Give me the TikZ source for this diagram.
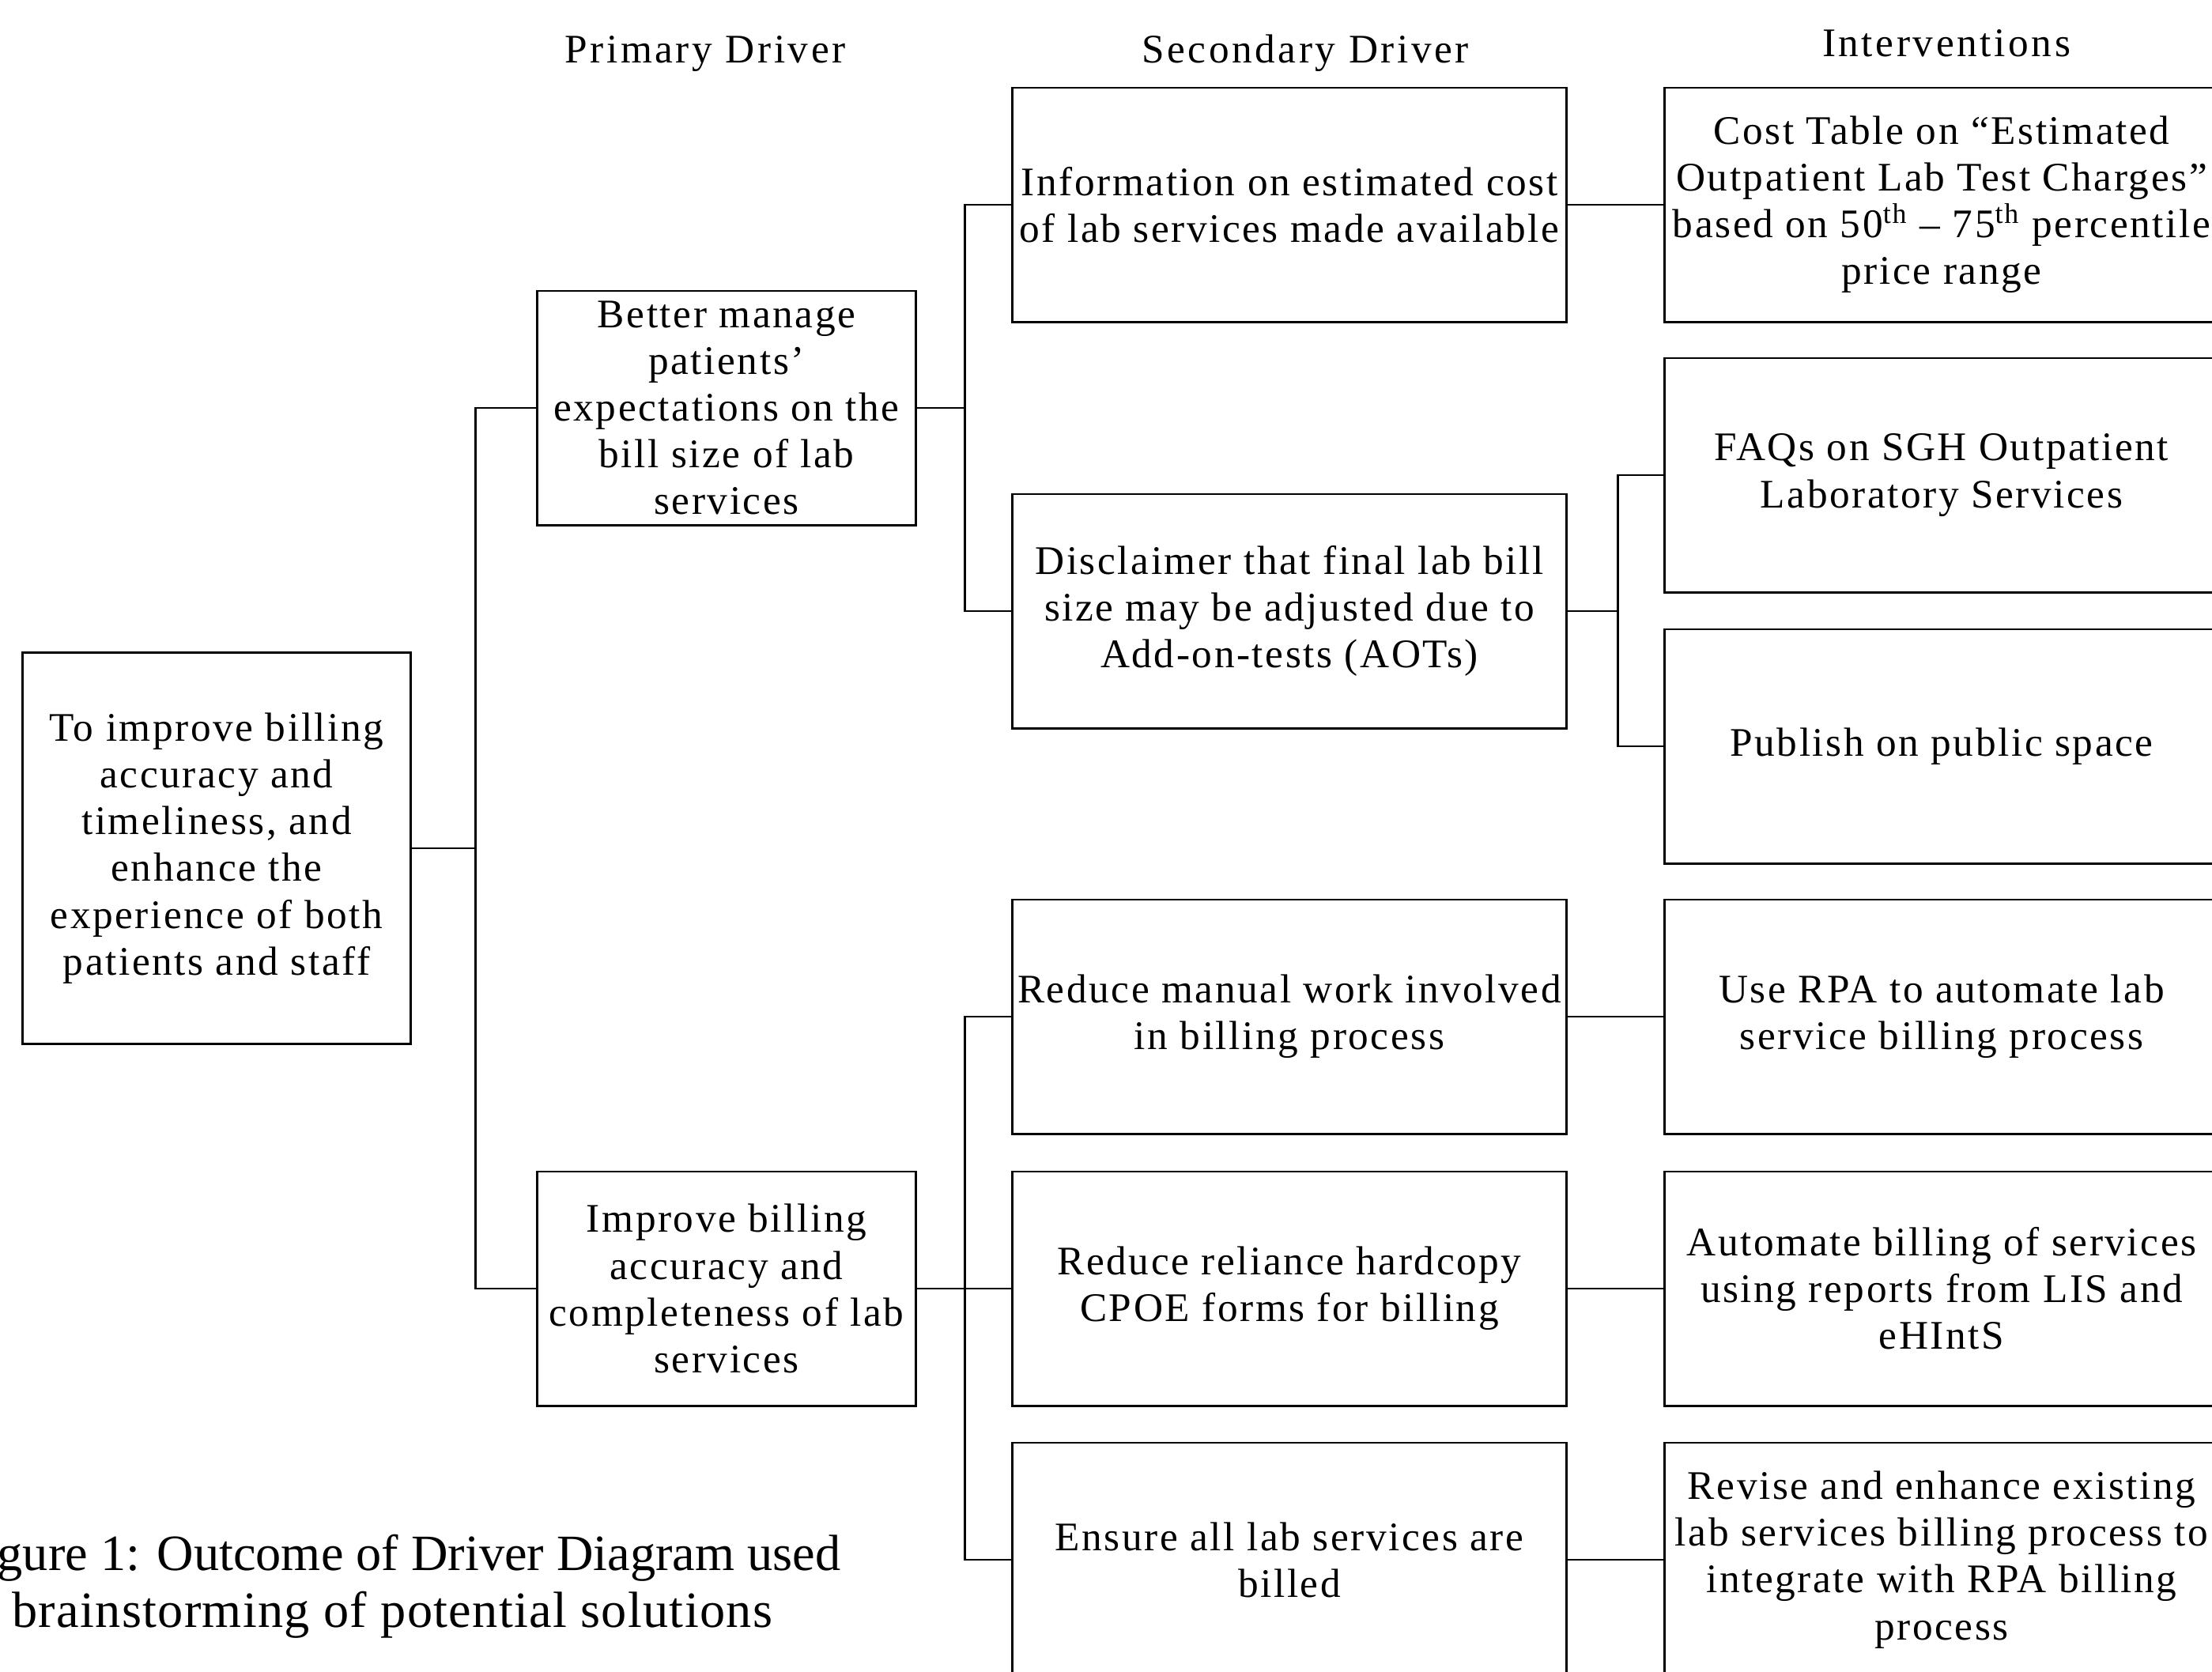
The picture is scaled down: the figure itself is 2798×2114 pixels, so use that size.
\documentclass[tikz,border=0pt]{standalone}
\usepackage{fontspec}
\setmainfont{Liberation Serif}[LetterSpace=5]
\newfontfamily\headfont{Liberation Serif}[LetterSpace=7]
\newfontfamily\capfont{Liberation Serif}
\newfontfamily\capwfont{Liberation Serif}[LetterSpace=2]
\begin{document}
\begin{tikzpicture}[x=0.01cm, y=-0.01cm, line width=0.8pt,
    drvbox/.style={draw, inner sep=0pt, align=center,
      minimum width=7.01cm, minimum height=2.96cm,
      font=\fontsize{14.6}{16.8}\selectfont},
    colhead/.style={anchor=base, font=\headfont\fontsize{14.6}{16.8}\selectfont},
    captxt/.style={inner sep=0pt, font=\capfont\fontsize{18.3}{21}\selectfont}]
    \useasboundingbox (0,0) rectangle (2798,2114);
    \clip (0,0) rectangle (2798,2114);

    % ── Column heads ─────────────────────────────────────────────────
    \node[colhead] (hprim) at (892,79) {Primary Driver};
    \node[colhead] (hsec)  at (1651,79) {Secondary Driver};
    \node[colhead] (hint)  at (2462,71) {Interventions};

    % ── Aim (left) ────────────────────────────────────────────────────
    \node[drvbox, minimum width=4.9cm, minimum height=4.94cm] (goal) at (274,1073)
      {To improve billing\\accuracy and\\timeliness, and\\enhance the\\experience of both\\patients and staff};

    % ── Primary drivers ───────────────────────────────────────────────
    \node[drvbox, minimum width=4.78cm] (prim1) at (919,516)
      {Better manage\\patients’\\expectations on the\\bill size of lab\\services};
    \node[drvbox, minimum width=4.78cm] (prim2) at (919,1630)
      {Improve billing\\accuracy and\\completeness of lab\\services};

    \draw (goal.east) -- ++(81,0) coordinate (jgoal) |- (prim1.west);
    \draw (jgoal) |- (prim2.west);

    % ── Secondary drivers ─────────────────────────────────────────────
    \node[drvbox] (sec1) at (1631,259)
      {Information on estimated cost\\of lab services made available};
    \node[drvbox] (sec2) at (1631,773)
      {Disclaimer that final lab bill\\size may be adjusted due to\\Add-on-tests (AOTs)};
    \node[drvbox] (sec3) at (1631,1286)
      {Reduce manual work involved\\in billing process};
    \node[drvbox] (sec4) at (1631,1630)
      {Reduce reliance hardcopy\\CPOE forms for billing};
    \node[drvbox] (sec5) at (1631,1973)
      {Ensure all lab services are\\billed};

    \draw (prim1.east) -- ++(61,0) coordinate (jprim1) |- (sec1.west);
    \draw (jprim1) |- (sec2.west);
    \draw (prim2.east) -- ++(61,0) coordinate (jprim2) |- (sec3.west);
    \draw (jprim2) -- (sec4.west);
    \draw (jprim2) |- (sec5.west);

    % ── Interventions (right) ─────────────────────────────────────────
    \node[drvbox] (int1) at (2456,259)
      {Cost Table on “Estimated\\Outpatient Lab Test Charges”\\based on 50\textsuperscript{th} – 75\textsuperscript{th} percentile\\price range};
    \node[drvbox] (int2) at (2456,601)
      {FAQs on SGH Outpatient\\Laboratory Services};
    \node[drvbox] (int3) at (2456,944)
      {Publish on public space};
    \node[drvbox] (int4) at (2456,1286)
      {Use RPA to automate lab\\service billing process};
    \node[drvbox] (int5) at (2456,1630)
      {Automate billing of services\\using reports from LIS and\\eHIntS};
    \node[drvbox] (int6) at (2456,1973)
      {Revise and enhance existing\\lab services billing process to\\integrate with RPA billing\\process};

    \draw (sec1.east) -- (int1.west);
    \draw (sec2.east) -- ++(63,0) coordinate (jsec2) |- (int2.west);
    \draw (jsec2) |- (int3.west);
    \draw (sec3.east) -- (int4.west);
    \draw (sec4.east) -- (int5.west);
    \draw (sec5.east) -- (int6.west);

    % ── Caption (bottom left) ─────────────────────────────────────────
    \node[captxt, anchor=base east] (cap1) at (1065,1986) {Figure 1: Outcome of Driver Diagram used};
    \node[captxt, anchor=base west, font=\capwfont\fontsize{18.3}{21}\selectfont] (cap2) at (14,2058)
      {brainstorming of potential solutions};
  \end{tikzpicture}
\end{document}
